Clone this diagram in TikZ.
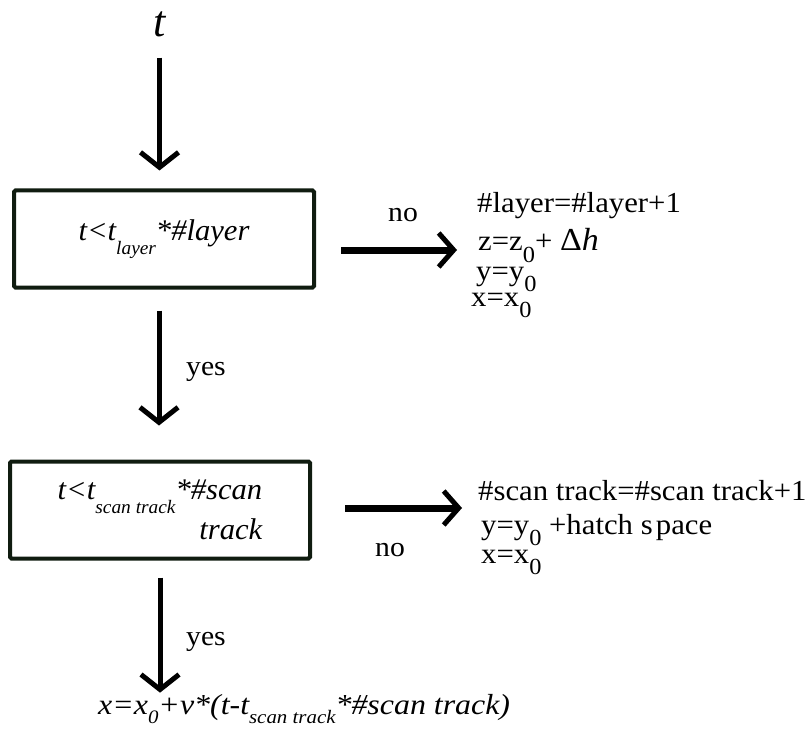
\documentclass[tikz,border=0pt]{standalone}
\usepackage{fontspec}
\setmainfont{Liberation Serif}
\usepackage{graphicx}
\usetikzlibrary{arrows.meta}
\definecolor{boxc}{RGB}{16,28,16}
\newcommand\SX[1]{\scalebox{1.06}[1]{#1}}
\newcommand\SI[1]{\scalebox{1.1}[1]{#1}}
\newcommand\SB[1]{\scalebox{1.02}[1]{#1}}
\newcommand\isub[1]{\raisebox{-14pt}{\fontsize{19}{19}\selectfont\itshape #1}}
\newcommand\fsub[1]{\raisebox{-9pt}{\fontsize{19}{19}\selectfont\itshape #1}}
\newcommand\zsub[1]{\raisebox{-11pt}{\fontsize{23}{23}\selectfont #1}}
\begin{document}
\begin{tikzpicture}[x=1pt,y=-1pt,
  txt/.style={inner sep=0pt, anchor=base west, font=\fontsize{29}{32}\selectfont},
  lbl/.style={inner sep=0pt, anchor=base west, font=\fontsize{28}{30}\selectfont},
  decision/.style={draw=boxc, line width=4pt, rounded corners=1.5pt, minimum width=300pt,
    minimum height=97pt, inner sep=0pt, font=\fontsize{30}{38}\selectfont\itshape},
  varr/.style={line width=5pt, -{Straight Barb[length=15pt, width=38pt, line width=5pt]}},
  harr/.style={line width=7pt, -{Straight Barb[length=15pt, width=34pt, line width=5pt]}}]
\useasboundingbox (0,0) rectangle (809,733);

\node[inner sep=0pt, anchor=base, font=\fontsize{44}{44}\selectfont\itshape] (t) at (159.5,37) {t};

\node[decision] (box1) at (164,239) {\SB{t<t\isub{layer}*\#layer}};
\node[decision, align=right] (box2) at (160,510) {\SB{t<t\isub{scan track}*\#scan}\\[2pt]\SB{track}};

% right block 1
\node[txt] (L1) at (477,212) {\SX{\#layer=\#layer+1}};
\node[txt] (L2) at (478,251) {\SX{z=z\zsub{0}+ {\fontsize{32}{32}\selectfont Δ\textit{h}}}};
\node[txt] (L3) at (476,280) {\SX{y=y\zsub{0}}};
\node[txt] (L4) at (471,306) {\SX{x=x\zsub{0}}};

% right block 2
\node[txt] (M1) at (478,500) {\SX{\#scan track=\#scan track+1}};
\node[txt] (M2) at (481,534) {\SX{y=y\zsub{0} +hatch s\kern3pt pace}};
\node[txt] (M3) at (481,563) {\SX{x=x\zsub{0}}};

% bottom formula
\node[inner sep=0pt, anchor=base west, font=\fontsize{29}{32}\selectfont\itshape] (F) at (98,714)
  {\SI{x=x\fsub{0}+v*(t-t\fsub{scan track}*\#scan track)}};

% labels
\node[lbl] (no1) at (388,222) {\SX{no}};
\node[lbl] (no2) at (375,556) {\SX{no}};
\node[lbl] (yes1) at (186,375) {\SX{yes}};
\node[lbl] (yes2) at (186,645) {\SX{yes}};

% connectors
\draw[varr, shorten >=18pt] (t.south) ++(0,20) coordinate (a0) -- (a0 |- box1.north);
\draw[varr, shorten >=34pt] (box1.south) ++(-5,21) coordinate (a1) -- (a1 |- box2.north);
\draw[varr, shorten >=1pt] (box2.south) ++(0,17) coordinate (a2) -- (a2 |- F.north);
\draw[harr, shorten >=21pt] (box1.east) ++(25,11) coordinate (h1) -- (h1 -| L2.west);
\draw[harr, shorten >=16pt] (box2.east) ++(33,-2) coordinate (h2) -- (h2 -| M1.west);
\end{tikzpicture}
\end{document}
